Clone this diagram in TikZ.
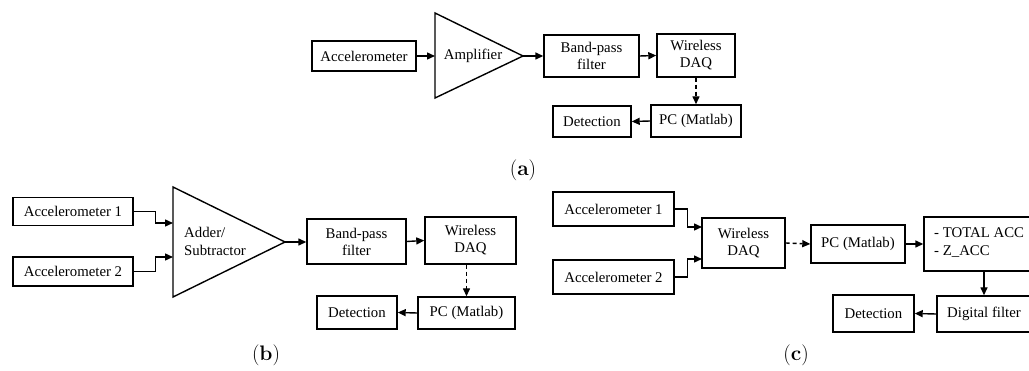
\documentclass[tikz,border=0pt]{standalone}
\usepackage{fontspec}
\newfontfamily\boxfont{Liberation Serif}
\usetikzlibrary{arrows.meta}
\begin{document}
\begin{tikzpicture}[x=1pt,y=-1pt,
  blk/.style={draw, line width=1.4pt, inner sep=0pt, align=center,
              font=\boxfont\fontsize{14.8}{17}\selectfont},
  txt/.style={inner sep=0pt, align=left, font=\boxfont\fontsize{14.8}{18}\selectfont},
  amp/.style={draw, line width=1.4pt, line join=miter},
  conn/.style={line width=1.4pt, -{Triangle[length=8pt,width=7pt]}},
  dconn/.style={conn, dash pattern=on 4pt off 3pt},
  panelcap/.style={inner sep=0pt, font=\fontsize{21}{23}\selectfont}]
\useasboundingbox (0,0) rectangle (1029,371);

% ---------------- (a) ----------------
\node[blk, minimum width=104pt, minimum height=30pt] (accA) at (364,56) {Accelerometer};
\coordinate (ampAtop) at (435,13);
\coordinate (ampAbot) at (435,98);
\coordinate (ampAtip) at (523,56);
\coordinate (ampAin) at (435,56);
\draw[amp] (ampAtop) -- (ampAtip) -- (ampAbot) -- cycle;
\node[txt] (ampAlbl) at (473,56) {Amplifier};
\node[blk, minimum width=95pt, minimum height=42pt] (bpA) at (591.5,56) {Band-pass\\filter};
\node[blk, minimum width=78pt, minimum height=43pt] (daqA) at (696,55.5) {Wireless\\DAQ};
\node[blk, minimum width=90pt, minimum height=32pt] (pcA) at (696,121) {PC (Matlab)};
\node[blk, minimum width=78pt, minimum height=31pt] (detA) at (592,121.5) {Detection};
\draw[conn] (accA.east) -- (ampAin);
\draw[conn] (ampAtip) -- (bpA.west);
\draw[conn] (bpA.east) -- (daqA.west);
\draw[dconn] (daqA.south) -- (pcA.north);
\draw[conn] (pcA.west) -- (detA.east);
\node[panelcap] (capA) at (523,170) {(\textbf{a})};

% ---------------- (b) ----------------
\node[blk, minimum width=120pt, minimum height=28pt] (acc1B) at (73,211.5) {Accelerometer 1};
\node[blk, minimum width=120pt, minimum height=29pt] (acc2B) at (73,271.5) {Accelerometer 2};
\coordinate (addBtop) at (173,187);
\coordinate (addBbot) at (173,297);
\coordinate (addBtip) at (285,242);
\coordinate (addBin1) at (173,223);
\coordinate (addBin2) at (173,257);
\draw[amp] (addBtop) -- (addBtip) -- (addBbot) -- cycle;
\node[txt, anchor=west] (addBlbl) at (184,241) {Adder/\\Subtractor};
\node[blk, minimum width=99pt, minimum height=45pt] (bpB) at (356.5,241.5) {Band-pass\\filter};
\node[blk, minimum width=91pt, minimum height=47pt] (daqB) at (470.5,240.5) {Wireless\\DAQ};
\node[blk, minimum width=97pt, minimum height=32pt] (pcB) at (466.5,313) {PC (Matlab)};
\node[blk, minimum width=80pt, minimum height=33pt] (detB) at (357,312.5) {Detection};
\draw[conn] (acc1B.east) -- ++(22,0) |- (addBin1);
\draw[conn] (acc2B.east) -- ++(22,0) |- (addBin2);
\draw[conn] (addBtip) -- (bpB.west |- addBtip);
\draw[conn] (bpB.east) -- (daqB.west);
\draw[dconn] (pcB.north |- daqB.south) -- (pcB.north);
\draw[conn] (pcB.west) -- (detB.east);
\node[panelcap] (capB) at (266,355) {(\textbf{b})};

% ---------------- (c) ----------------
\node[blk, minimum width=121pt, minimum height=34pt] (acc1C) at (613.5,209) {Accelerometer 1};
\node[blk, minimum width=121pt, minimum height=34pt] (acc2C) at (613.5,277) {Accelerometer 2};
\node[blk, minimum width=83pt, minimum height=50pt] (daqC) at (743.5,243) {Wireless\\DAQ};
\coordinate (daqCin1) at (702,227);
\coordinate (daqCin2) at (702,259);
\node[blk, minimum width=94pt, minimum height=38pt] (pcC) at (858,244) {PC (Matlab)};
\node[blk, minimum width=116pt, minimum height=54pt] (totC) at (982,244) {};
\node[txt, anchor=west] (totClbl) at (934,243) {- TOTAL ACC\\- Z\_ACC};
\node[blk, minimum width=94pt, minimum height=36pt] (dfC) at (984,314) {Digital filter};
\node[blk, minimum width=81pt, minimum height=37pt] (detC) at (873.5,313.5) {Detection};
\draw[conn] (acc1C.east) -- ++(13,0) |- (daqCin1);
\draw[conn] (acc2C.east) -- ++(13,0) |- (daqCin2);
\draw[dconn] (daqC.east) -- (pcC.west);
\draw[conn] (pcC.east) -- (totC.west);
\draw[conn] (dfC.north |- totC.south) -- (dfC.north);
\draw[conn] (dfC.west) -- (detC.east);
\node[panelcap] (capC) at (796,355) {(\textbf{c})};
\end{tikzpicture}
\end{document}
